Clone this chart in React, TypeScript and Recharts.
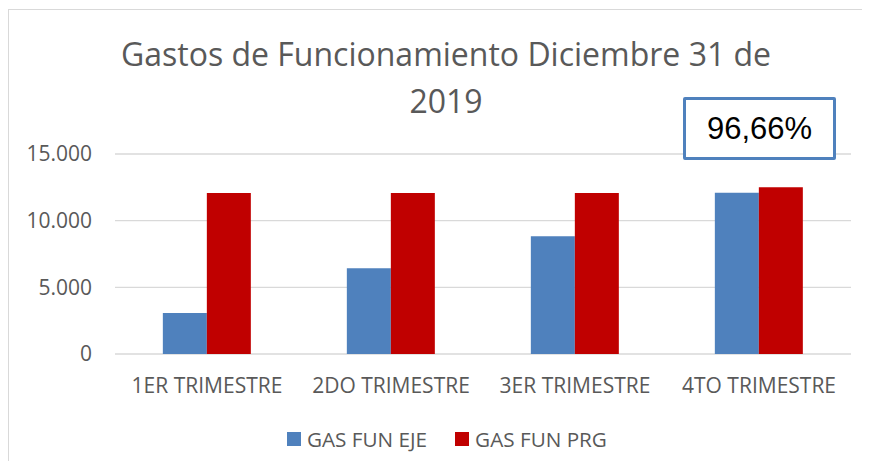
import React from "react";
import {
  BarChart,
  Bar,
  XAxis,
  YAxis,
  CartesianGrid,
  Legend,
} from "recharts";

const trimestres = ["1ER TRIMESTRE", "2DO TRIMESTRE", "3ER TRIMESTRE", "4TO TRIMESTRE"];
const gasFunEje = [3075, 6430, 8830, 12095];
const gasFunPrg = [12075, 12075, 12075, 12500];
const yTicks = [0, 5000, 10000, 15000];
const ejecucion = "96,66%";

const BLUE = "#4F81BD";
const RED = "#C00000";
const GRAY = "#595959";
const FONT = "'Open Sans', sans-serif";

const data = trimestres.map((t, i) => ({
  name: t,
  eje: gasFunEje[i],
  prg: gasFunPrg[i],
}));

const fmt = (v: number) => v.toLocaleString("de-DE");

function LegendBox({ payload }: any) {
  return (
    <div style={{ display: "flex", alignItems: "center", height: 24, fontFamily: FONT, fontSize: 20.7, color: GRAY }}>
      {(payload || []).map((p: any, i: number) => (
        <div key={i} style={{ display: "flex", alignItems: "center", marginRight: 28 }}>
          <span style={{ width: 14, height: 14, background: p.color, marginRight: 6, display: "inline-block" }} />
          <span style={{ lineHeight: "24px" }}>{p.value}</span>
        </div>
      ))}
    </div>
  );
}

export default function App() {
  return (
    <div
      style={{
        position: "relative",
        width: 854,
        height: 453,
        overflow: "hidden",
        background: "#fff",
      }}
    >
      <div
        style={{
          position: "absolute",
          left: 0,
          top: 1,
          width: 900,
          height: 500,
          borderLeft: "1px solid #D9D9D9",
          borderTop: "1px solid #D9D9D9",
        }}
      />
      <BarChart
        width={854}
        height={453}
        data={data}
        margin={{ top: 146, right: 11, bottom: 77, left: 0 }}
        barCategoryGap="26%"
        barGap={0}
      >
        <CartesianGrid vertical={false} stroke="#D9D9D9" strokeWidth={1.3} />
        <XAxis
          dataKey="name"
          axisLine={false}
          tickLine={false}
          tickSize={0}
          tickMargin={24}
          height={30}
          interval={0}
          tick={{ fill: GRAY, fontSize: 21, fontFamily: FONT }}
        />
        <YAxis
          domain={[0, 15000]}
          ticks={yTicks}
          tickFormatter={fmt}
          axisLine={false}
          tickLine={false}
          tickSize={0}
          tickMargin={23}
          width={107}
          tick={{ fill: GRAY, fontSize: 21, fontFamily: FONT }}
        />
        <Legend
          layout="horizontal"
          verticalAlign="middle"
          align="center"
          content={<LegendBox />}
          wrapperStyle={{ top: 419, left: 279, width: 400 }}
        />
        <Bar dataKey="eje" name="GAS FUN EJE" fill={BLUE} isAnimationActive={false} />
        <Bar dataKey="prg" name="GAS FUN PRG" fill={RED} isAnimationActive={false} />
      </BarChart>
      <div
        style={{
          position: "absolute",
          left: 438,
          top: 22,
          transform: "translateX(-50%)",
          fontFamily: FONT,
          fontSize: 32,
          lineHeight: "47px",
          color: GRAY,
          textAlign: "center",
          whiteSpace: "nowrap",
        }}
      >
        <div>Gastos de Funcionamiento Diciembre 31 de</div>
        <div>2019</div>
      </div>
      <div
        style={{
          position: "absolute",
          left: 675,
          top: 89,
          width: 153,
          height: 63,
          boxSizing: "border-box",
          border: `3px solid ${BLUE}`,
          borderRadius: 2,
          background: "#fff",
          display: "flex",
          alignItems: "center",
          justifyContent: "center",
          fontFamily: "'Liberation Sans', Arial, sans-serif",
          fontSize: 31,
          color: "#000",
        }}
      >
        {ejecucion}
      </div>
    </div>
  );
}
